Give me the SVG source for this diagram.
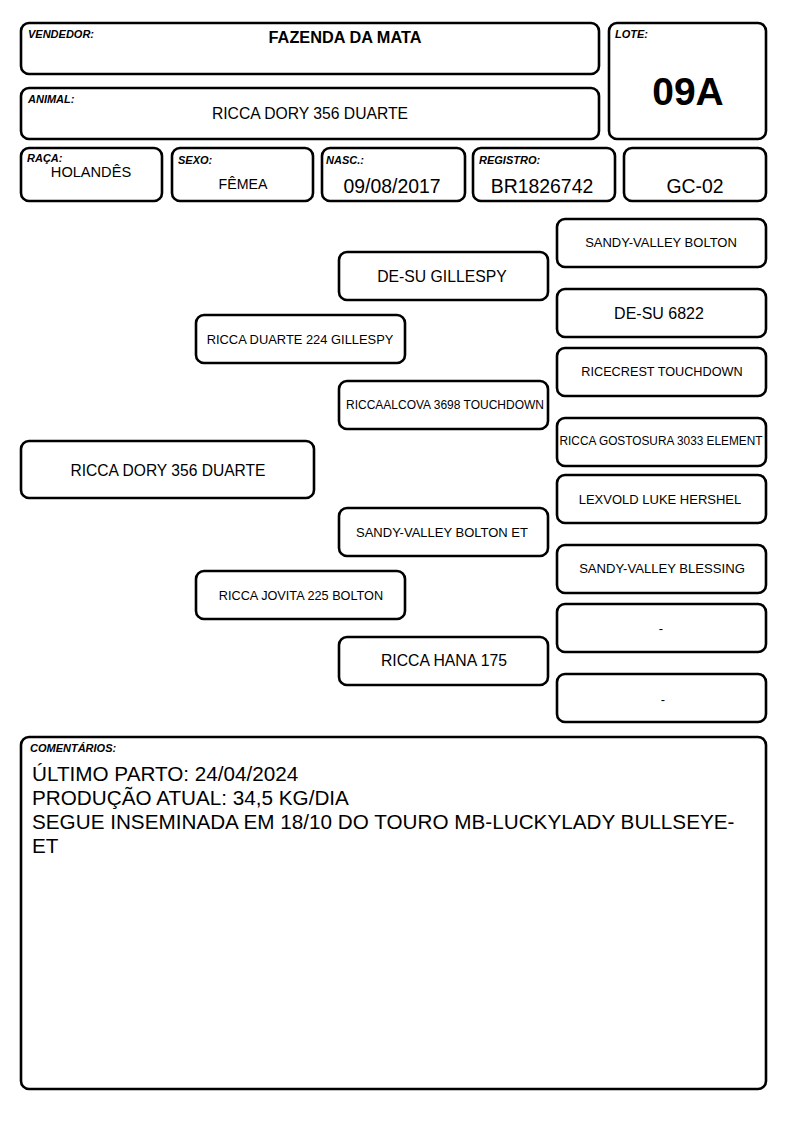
<svg xmlns="http://www.w3.org/2000/svg" width="794" height="1123" viewBox="0 0 794 1123">
<style>
.b{fill:#fff;stroke:#000;stroke-width:2.6}
.lb{font-family:"Liberation Sans",Arial,sans-serif;font-size:11px;font-weight:bold;font-style:italic;fill:#000}
.t{font-family:"Liberation Sans",Arial,sans-serif;fill:#000;text-anchor:middle}
.c{font-family:"Liberation Sans",Arial,sans-serif;fill:#000;font-size:20.7px}
</style>
<rect width="794" height="1123" fill="#fff"/>
<g id="vendedor"><rect class="b" x="21" y="23" width="578" height="51" rx="8"/><text class="lb" x="28" y="38">VENDEDOR:</text><text class="t" x="345" y="43" font-size="16.3" font-weight="bold">FAZENDA DA MATA</text></g>
<g id="animal"><rect class="b" x="21" y="88" width="578" height="51" rx="8"/><text class="lb" x="28" y="103">ANIMAL:</text><text class="t" x="310" y="119" font-size="15.7">RICCA DORY 356 DUARTE</text></g>
<g id="lote"><rect class="b" x="609" y="23" width="157" height="116" rx="8"/><text class="lb" x="615" y="38">LOTE:</text><text class="t" x="688" y="105" font-size="39" font-weight="bold">09A</text></g>
<g id="raca"><rect class="b" x="21" y="148" width="141" height="53" rx="8"/><text class="lb" x="27" y="162">RAÇA:</text><text class="t" x="91" y="177" font-size="14.6">HOLANDÊS</text></g>
<g id="sexo"><rect class="b" x="172" y="148" width="141" height="53" rx="8"/><text class="lb" x="178" y="164">SEXO:</text><text class="t" x="243" y="189" font-size="14.2">FÊMEA</text></g>
<g id="nasc"><rect class="b" x="322" y="148" width="143" height="53" rx="8"/><text class="lb" x="326" y="164">NASC.:</text><text class="t" x="392" y="193" font-size="19.4">09/08/2017</text></g>
<g id="registro"><rect class="b" x="473" y="148" width="142" height="53" rx="8"/><text class="lb" x="479" y="164">REGISTRO:</text><text class="t" x="542" y="193" font-size="19.4">BR1826742</text></g>
<g id="gc"><rect class="b" x="624" y="148" width="142" height="53" rx="8"/><text class="t" x="695" y="193" font-size="19.4">GC-02</text></g>

<g id="connectors"></g>

<g id="p-animal"><rect class="b" x="21" y="441" width="293" height="57" rx="8"/><text class="t" x="168" y="476" font-size="15.6">RICCA DORY 356 DUARTE</text></g>
<g id="p-sire"><rect class="b" x="196" y="315" width="209" height="48" rx="8"/><text class="t" x="300" y="344" font-size="12.9">RICCA DUARTE 224 GILLESPY</text></g>
<g id="p-dam"><rect class="b" x="196" y="571" width="209" height="48" rx="8"/><text class="t" x="301" y="600" font-size="12.7">RICCA JOVITA 225 BOLTON</text></g>
<g id="p-ss"><rect class="b" x="339" y="252" width="209" height="48" rx="8"/><text class="t" x="442" y="282" font-size="15.75">DE-SU GILLESPY</text></g>
<g id="p-sd"><rect class="b" x="339" y="381" width="209" height="48" rx="8"/><text class="t" x="445" y="409" font-size="12" textLength="198" lengthAdjust="spacingAndGlyphs">RICCAALCOVA 3698 TOUCHDOWN</text></g>
<g id="p-ds"><rect class="b" x="339" y="508" width="209" height="48" rx="8"/><text class="t" x="442" y="537" font-size="13">SANDY-VALLEY BOLTON ET</text></g>
<g id="p-dd"><rect class="b" x="339" y="637" width="209" height="48" rx="8"/><text class="t" x="444" y="666" font-size="15.75">RICCA HANA 175</text></g>
<g id="p-sss"><rect class="b" x="557" y="219" width="209" height="48" rx="8"/><text class="t" x="661" y="247" font-size="13">SANDY-VALLEY BOLTON</text></g>
<g id="p-ssd"><rect class="b" x="557" y="289" width="209" height="48" rx="8"/><text class="t" x="659" y="319" font-size="16">DE-SU 6822</text></g>
<g id="p-sds"><rect class="b" x="557" y="348" width="209" height="48" rx="8"/><text class="t" x="662" y="376" font-size="12.7">RICECREST TOUCHDOWN</text></g>
<g id="p-sdd"><rect class="b" x="557" y="418" width="209" height="48" rx="8"/><text class="t" x="661" y="445" font-size="12" textLength="203" lengthAdjust="spacingAndGlyphs">RICCA GOSTOSURA 3033 ELEMENT</text></g>
<g id="p-dss"><rect class="b" x="557" y="475" width="209" height="48" rx="8"/><text class="t" x="660" y="504" font-size="13">LEXVOLD LUKE HERSHEL</text></g>
<g id="p-dsd"><rect class="b" x="557" y="545" width="209" height="48" rx="8"/><text class="t" x="662" y="573" font-size="13.1">SANDY-VALLEY BLESSING</text></g>
<g id="p-dds"><rect class="b" x="557" y="604" width="209" height="48" rx="8"/><text class="t" x="661" y="633" font-size="13">-</text></g>
<g id="p-ddd"><rect class="b" x="557" y="674" width="209" height="48" rx="8"/><text class="t" x="663" y="704" font-size="13">-</text></g>

<g id="comentarios"><rect class="b" x="21" y="737" width="745" height="352" rx="8"/><text class="lb" x="30" y="752">COMENTÁRIOS:</text>
<text class="c" x="32" y="781">ÚLTIMO PARTO: 24/04/2024</text>
<text class="c" x="32" y="805">PRODUÇÃO ATUAL: 34,5 KG/DIA</text>
<text class="c" x="32" y="829">SEGUE INSEMINADA EM 18/10 DO TOURO MB-LUCKYLADY BULLSEYE-</text>
<text class="c" x="32" y="853">ET</text></g>
</svg>
